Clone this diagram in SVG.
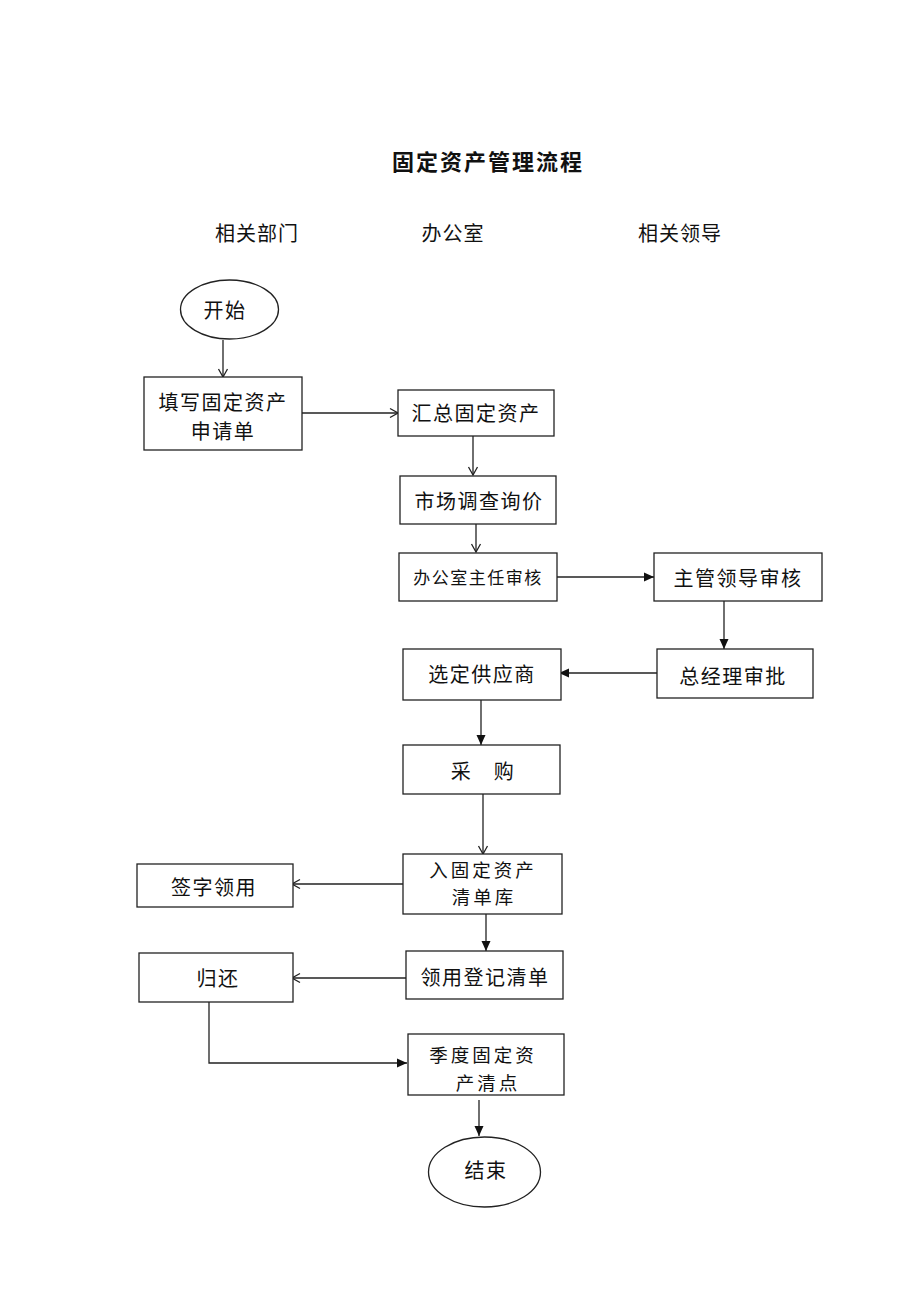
<svg xmlns="http://www.w3.org/2000/svg" width="920" height="1302" viewBox="0 0 920 1302">
<style>
.box{fill:#fff;stroke:#222;stroke-width:1.3}
.t{font-family:"Noto Sans CJK SC","Noto Sans",sans-serif;font-size:20px;letter-spacing:1.5px;fill:#111;text-anchor:middle;dominant-baseline:central}
.s{font-size:17px}
.m{font-size:18.5px;letter-spacing:3px}
.h{font-size:20px;letter-spacing:1px}
.title{font-size:22px;font-weight:bold;letter-spacing:2px}
.c{fill:none;stroke:#222;stroke-width:1.3}
.o{marker-end:url(#open)}
.f{marker-end:url(#fill)}
</style>
<defs>
<marker id="open" markerUnits="userSpaceOnUse" markerWidth="12" markerHeight="12" viewBox="0 0 12 12" refX="11" refY="6" orient="auto">
<path d="M3,1.5 L11,6 L3,10.5" fill="none" stroke="#222" stroke-width="1.3"/>
</marker>
<marker id="fill" markerUnits="userSpaceOnUse" markerWidth="12" markerHeight="12" viewBox="0 0 12 12" refX="11" refY="6" orient="auto">
<path d="M1,1.5 L11,6 L1,10.5 Z" fill="#111"/>
</marker>
</defs>
<text class="t title" x="488" y="160">固定资产管理流程</text>
<text class="t h" x="257" y="232">相关部门</text>
<text class="t h" x="453" y="232">办公室</text>
<text class="t h" x="680" y="232">相关领导</text>
<g id="connectors">
<line class="c o" x1="223" y1="340" x2="223" y2="377"/>
<line class="c o" x1="302" y1="413" x2="398" y2="413"/>
<line class="c o" x1="473" y1="436" x2="473" y2="475"/>
<line class="c o" x1="476" y1="524" x2="476" y2="552"/>
<line class="c f" x1="557" y1="577" x2="654" y2="577"/>
<line class="c f" x1="724" y1="601" x2="724" y2="649"/>
<line class="c f" x1="657" y1="673" x2="559" y2="673"/>
<line class="c f" x1="481" y1="700" x2="481" y2="745"/>
<line class="c o" x1="483" y1="794" x2="483" y2="854"/>
<line class="c o" x1="403" y1="884" x2="292" y2="884"/>
<line class="c f" x1="486" y1="914" x2="486" y2="951"/>
<line class="c o" x1="406" y1="978" x2="292" y2="978"/>
<polyline class="c f" points="209,1002 209,1063 407,1063"/>
<line class="c f" x1="479" y1="1100" x2="479" y2="1136"/>
</g>
<g id="start"><ellipse class="box" cx="229.5" cy="309.5" rx="49" ry="29.5"/><text class="t" x="225" y="309">开始</text></g>
<g id="apply"><rect class="box" x="144" y="377" width="158" height="73"/><text class="t" x="223" y="401">填写固定资产</text><text class="t" x="223" y="430">申请单</text></g>
<g id="summary"><rect class="box" x="398" y="390" width="156" height="46"/><text class="t" x="476" y="412">汇总固定资产</text></g>
<g id="survey"><rect class="box" x="400" y="476" width="156" height="48"/><text class="t" x="479" y="500">市场调查询价</text></g>
<g id="office-review"><rect class="box" x="399" y="553" width="158" height="48"/><text class="t s" x="478" y="576">办公室主任审核</text></g>
<g id="leader-review"><rect class="box" x="654" y="553" width="168" height="48"/><text class="t" x="738" y="577">主管领导审核</text></g>
<g id="gm-approve"><rect class="box" x="657" y="649" width="156" height="49"/><text class="t" x="733" y="675">总经理审批</text></g>
<g id="supplier"><rect class="box" x="403" y="649" width="158" height="51"/><text class="t" x="482" y="673">选定供应商</text></g>
<g id="purchase"><rect class="box" x="403" y="745" width="157" height="49"/><text class="t" x="483" y="770">采　购</text></g>
<g id="inventory"><rect class="box" x="403" y="854" width="159" height="60"/><text class="t m" x="483" y="869">入固定资产</text><text class="t m" x="484" y="896">清单库</text></g>
<g id="sign"><rect class="box" x="137" y="864" width="156" height="43"/><text class="t" x="214" y="886">签字领用</text></g>
<g id="register"><rect class="box" x="406" y="951" width="157" height="48"/><text class="t" x="485" y="976">领用登记清单</text></g>
<g id="return"><rect class="box" x="139" y="953" width="154" height="49"/><text class="t" x="218" y="977">归还</text></g>
<g id="count"><rect class="box" x="408" y="1034" width="156" height="61"/><text class="t m" x="483" y="1054">季度固定资</text><text class="t m" x="488" y="1082">产清点</text></g>
<g id="end"><ellipse class="box" cx="484.5" cy="1172" rx="56" ry="35"/><text class="t" x="486" y="1169">结束</text></g>
</svg>
